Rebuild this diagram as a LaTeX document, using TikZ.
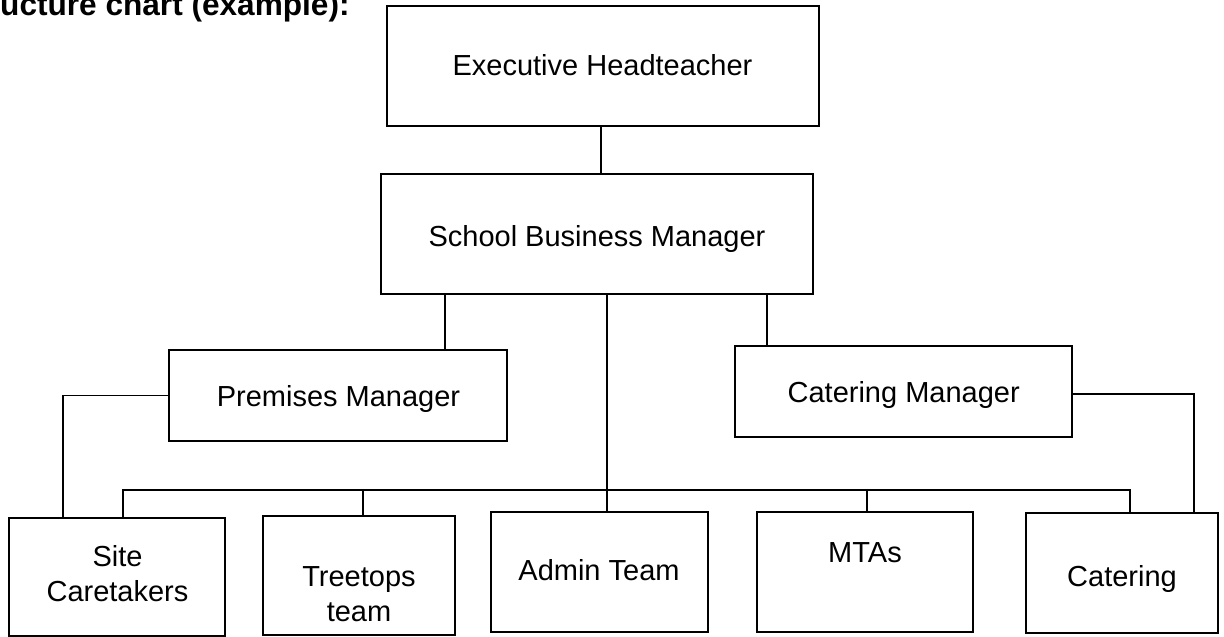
\documentclass[tikz,border=0pt]{standalone}
\usepackage{fontspec}
\setmainfont{Liberation Sans}
\begin{document}
\begin{tikzpicture}[x=1pt,y=-1pt,
  box/.style={draw, line width=1.6pt, inner sep=0pt, outer sep=0pt},
  lbl/.style={inner sep=0pt, anchor=base, align=center, font=\fontsize{29}{35}\selectfont},
  link/.style={line width=1.6pt},
  heading/.style={inner sep=0pt, anchor=base west, font=\bfseries\fontsize{31.6}{38}\selectfont}]
\useasboundingbox (0,0) rectangle (1224,637);

% heading
\node[heading] (title) at (0,15.5) {ucture chart (example):};

% boxes
\node[box, minimum width=432pt, minimum height=120pt] (exec)     at (603,66) {};
\node[box, minimum width=432pt, minimum height=120pt] (sbm)      at (597,234) {};
\node[box, minimum width=338pt, minimum height=91pt]  (premises) at (338,395.5) {};
\node[box, minimum width=337pt, minimum height=91pt]  (catmgr)   at (903.5,391.5) {};
\node[box, minimum width=216pt, minimum height=118pt] (site)     at (117,577) {};
\node[box, minimum width=192pt, minimum height=119pt] (treetops) at (359,575.5) {};
\node[box, minimum width=217pt, minimum height=120pt] (admin)    at (599.5,572) {};
\node[box, minimum width=216pt, minimum height=120pt] (mtas)     at (865,572) {};
\node[box, minimum width=192pt, minimum height=120pt] (catering) at (1122,573) {};

% labels
\node[lbl] (execT)     at (602.5,75)    {Executive Headteacher};
\node[lbl] (sbmT)      at (597,246.7)   {School Business Manager};
\node[lbl] (premisesT) at (338.5,406.7) {Premises Manager};
\node[lbl] (catmgrT)   at (903.7,402.7) {Catering Manager};
\node[lbl] (siteT)     at (117.5,601.7) {Site\\Caretakers};
\node[lbl] (treetopsT) at (359,621.7)   {Treetops\\team};
\node[lbl] (adminT)    at (599,580)     {Admin Team};
\node[lbl] (mtasT)     at (865,562.3)   {MTAs};
\node[lbl] (cateringT) at (1122,586)    {Catering};

% bus line and junctions
\coordinate (busR)  at (1130,490);
\coordinate (jTree) at (363,490);
\coordinate (jMta)  at (867,490);

% connectors
\draw[link] ([xshift=-2pt]exec.south) -- ([xshift=4pt]sbm.north);
\draw[link] ([xshift=-152pt]sbm.south) -- ([xshift=107pt]premises.north);
\draw[link] ([xshift=170pt]sbm.south) -- ([xshift=-136.5pt]catmgr.north);
\draw[link] ([xshift=10pt]sbm.south) -- ([xshift=7.5pt]admin.north);
\draw[link] ([xshift=6pt]site.north) |- (busR) -- ([xshift=8pt]catering.north);
\draw[link] (jTree) -- ([xshift=4pt]treetops.north);
\draw[link] (jMta) -- ([xshift=2pt]mtas.north);
\draw[link] (premises.west) -| ([xshift=-54pt]site.north);
\draw[link] ([yshift=-2.5pt]catmgr.east) -| ([xshift=72pt]catering.north);
\end{tikzpicture}
\end{document}
